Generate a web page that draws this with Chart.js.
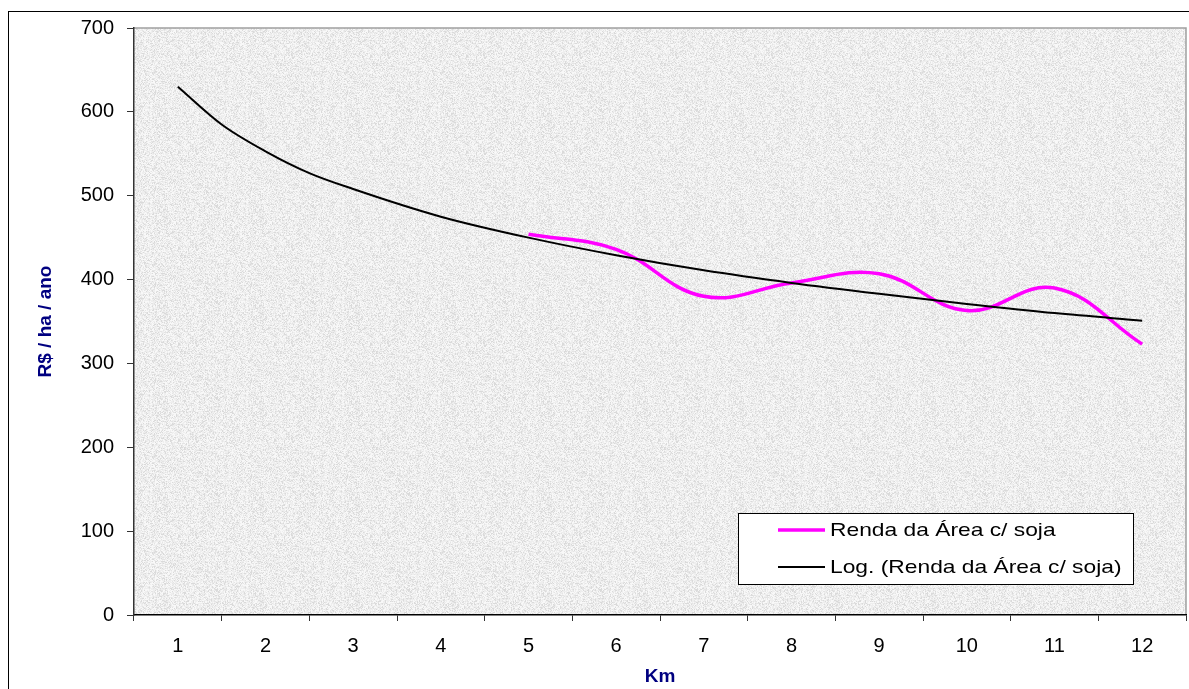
<!DOCTYPE html>
<html>
<head>
<meta charset="utf-8">
<title>Renda da Área c/ soja</title>
<script src="https://cdn.jsdelivr.net/npm/chart.js@4.4.1/dist/chart.umd.min.js"></script>
<style>
  html, body { margin: 0; padding: 0; background: #fff; }
  #wrap { width: 1189px; height: 689px; position: relative; }
</style>
</head>
<body>
<div id="wrap"><canvas id="chart" width="1189" height="689"></canvas></div>
<script>
const kmLabels = ["1", "2", "3", "4", "5", "6", "7", "8", "9", "10", "11", "12"];
const rendaSoja = [null, null, null, null, 454, 436, 380, 396, 407, 363, 390, 323];
// trend line (extra readings at 1.5 and 2.5 where it bends most)
const logKm = [1, 1.5, 2, 2.5, 3, 4, 5, 6, 7, 8, 9, 10, 11, 12];
const logRendaSoja = [630, 585, 553, 527, 508, 475, 450, 429, 411, 396, 383, 371, 360, 351];
const yTicks = [0, 100, 200, 300, 400, 500, 600, 700];

const serieLabel = "Renda da Área c/ soja";
const trendLabel = "Log. (Renda da Área c/ soja)";
const navy = "#000080";
const fontFamily = "'Liberation Sans', Arial, sans-serif";

// granite-like fill for the plot area (deterministic speckle)
function makeGranite() {
  const c = document.createElement("canvas");
  c.width = 96;
  c.height = 96;
  const g = c.getContext("2d");
  const img = g.createImageData(96, 96);
  for (let i = 0; i < 96 * 96; i++) {
    const h = Math.abs(Math.sin(i * 12.9898 + (i % 96) * 78.233) * 43758.5453) % 1;
    let v = 238;
    if (h < 0.15) v = 218;
    else if (h < 0.3) v = 228;
    else if (h > 0.7) v = 248;
    img.data[i * 4] = v;
    img.data[i * 4 + 1] = v;
    img.data[i * 4 + 2] = v;
    img.data[i * 4 + 3] = 255;
  }
  g.putImageData(img, 0, 0);
  return c;
}

const plotFrame = {
  id: "plotFrame",
  beforeDraw(chart) {
    const { ctx, chartArea: a } = chart;
    ctx.save();
    ctx.strokeStyle = "#000";
    ctx.lineWidth = 1;
    ctx.strokeRect(8.5, 11.5, 1400, 900);
    ctx.fillStyle = ctx.createPattern(makeGranite(), "repeat");
    ctx.fillRect(a.left, a.top, a.right - a.left, a.bottom - a.top);
    ctx.strokeStyle = "#a0a0a0";
    ctx.lineWidth = 1.5;
    ctx.beginPath();
    ctx.moveTo(a.left, a.top);
    ctx.lineTo(a.right, a.top);
    ctx.lineTo(a.right, a.bottom);
    ctx.stroke();
    ctx.restore();
  },
};

const boxLegend = {
  id: "boxLegend",
  afterDraw(chart) {
    const { ctx, chartArea: a } = chart;
    const x = a.right - 448;
    const y = a.bottom - 102;
    const rows = [
      { text: serieLabel, color: "#ff00ff", width: 3.5, dy: 17 },
      { text: trendLabel, color: "#000", width: 2, dy: 54 },
    ];
    ctx.save();
    ctx.fillStyle = "#fff";
    ctx.fillRect(x, y, 395, 71);
    ctx.strokeStyle = "#000";
    ctx.lineWidth = 1;
    ctx.strokeRect(x + 0.5, y + 0.5, 395, 71);
    rows.forEach((row) => {
      ctx.strokeStyle = row.color;
      ctx.lineWidth = row.width;
      ctx.beginPath();
      ctx.moveTo(x + 40, y + row.dy);
      ctx.lineTo(x + 87, y + row.dy);
      ctx.stroke();
      ctx.save();
      ctx.translate(x + 92, y + row.dy);
      ctx.scale(1.2, 1);
      ctx.fillStyle = "#000";
      ctx.font = "19px " + fontFamily;
      ctx.textBaseline = "middle";
      ctx.fillText(row.text, 0, 1);
      ctx.restore();
    });
    ctx.restore();
  },
};

new Chart(document.getElementById("chart"), {
  type: "line",
  data: {
    labels: kmLabels,
    datasets: [
      {
        label: serieLabel,
        data: rendaSoja,
        borderColor: "#ff00ff",
        borderWidth: 3.5,
        pointRadius: 0,
        tension: 0.4,
        fill: false,
        order: 2,
      },
      {
        label: trendLabel,
        data: logKm.map((km, i) => ({ x: km, y: logRendaSoja[i] })),
        xAxisID: "xTrend",
        borderColor: "#000",
        borderWidth: 2,
        pointRadius: 0,
        cubicInterpolationMode: "monotone",
        fill: false,
        order: 1,
      },
    ],
  },
  options: {
    responsive: false,
    animation: false,
    layout: { padding: { left: 0, top: 28, right: 3, bottom: 0 } },
    plugins: {
      legend: { display: false },
      tooltip: { enabled: false },
    },
    scales: {
      x: {
        type: "category",
        offset: true,
        grid: {
          offset: true,
          drawOnChartArea: false,
          drawTicks: true,
          tickLength: 6,
          color: "#333",
        },
        border: { color: "#000", width: 1.5 },
        ticks: {
          color: "#000",
          padding: 13,
          font: { family: fontFamily, size: 20 },
          maxRotation: 0,
          autoSkip: false,
        },
        title: {
          display: true,
          text: "Km",
          color: navy,
          font: { family: fontFamily, size: 19, weight: "bold" },
          padding: { top: 0, bottom: 1 },
        },
        afterFit(scale) {
          scale.height = 74;
        },
      },
      xTrend: {
        type: "linear",
        position: "bottom",
        min: 0.5,
        max: 12.5,
        display: false,
      },
      y: {
        min: 0,
        max: 700,
        afterBuildTicks(scale) {
          scale.ticks = yTicks.map((value) => ({ value }));
        },
        grid: {
          drawOnChartArea: false,
          drawTicks: true,
          tickLength: 7,
          color: "#333",
        },
        border: { color: "#333", width: 1.5 },
        ticks: {
          color: "#000",
          padding: 13,
          font: { family: fontFamily, size: 20 },
        },
        title: {
          display: true,
          text: "R$ / ha / ano",
          color: navy,
          font: { family: fontFamily, size: 19, weight: "bold" },
          padding: { top: 34, bottom: 0 },
        },
        afterFit(scale) {
          scale.width = 134;
        },
      },
    },
  },
  plugins: [plotFrame, boxLegend],
});
</script>
</body>
</html>
